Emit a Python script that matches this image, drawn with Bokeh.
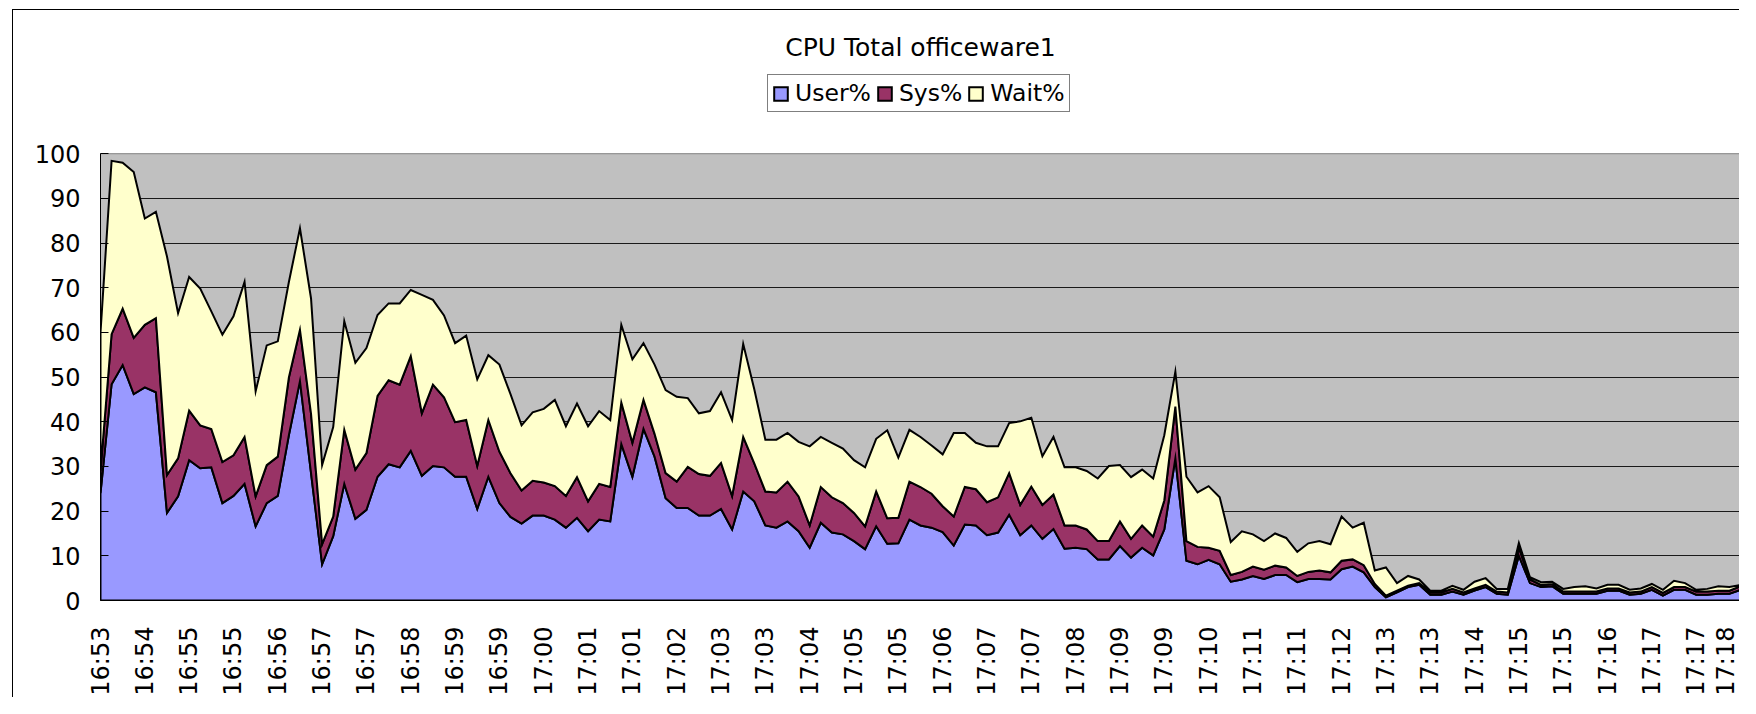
import numpy as np
from bokeh.plotting import figure
from bokeh.models import Range1d, FixedTicker, Legend, LegendItem
from bokeh.embed import file_html
from bokeh.resources import INLINE

title_text = "CPU Total officeware1"
series_names = ["User%", "Sys%", "Wait%"]
series_colors = ["#9999FF", "#993366", "#FFFFCC"]

tick_labels = ["16:53", "16:54", "16:55", "16:55", "16:56", "16:57", "16:57", "16:58", "16:59", "16:59",
               "17:00", "17:01", "17:01", "17:02", "17:03", "17:03", "17:04", "17:05", "17:05", "17:06",
               "17:07", "17:07", "17:08", "17:09", "17:09", "17:10", "17:11", "17:11", "17:12", "17:13",
               "17:13", "17:14", "17:15", "17:15", "17:16", "17:17", "17:17", "17:18"]
label_every = 4

user = [24.0, 48.4, 52.7, 46.2, 47.7, 46.6, 19.6, 23.3, 31.4, 29.6,
        29.8, 21.8, 23.4, 26.1, 16.6, 21.8, 23.4, 37.0, 49.1, 28.5,
        8.1, 14.4, 26.1, 18.3, 20.3, 27.7, 30.5, 29.8, 33.5, 27.9,
        30.1, 29.8, 27.7, 27.7, 20.5, 27.7, 21.8, 18.7, 17.2, 19.0,
        19.0, 18.1, 16.3, 18.5, 15.5, 18.1, 17.7, 35.0, 27.7, 38.4,
        32.2, 22.9, 20.7, 20.7, 19.0, 19.0, 20.5, 15.9, 24.4, 22.2,
        16.8, 16.3, 17.7, 15.5, 11.8, 17.4, 15.2, 14.8, 13.3, 11.5,
        16.6, 12.7, 12.8, 18.1, 16.8, 16.3, 15.3, 12.3, 17.0, 16.8,
        14.6, 15.2, 19.2, 14.6, 16.8, 13.8, 16.0, 11.6, 11.8, 11.5,
        9.2, 9.2, 12.2, 9.6, 11.8, 10.1, 15.9, 31.8, 8.9, 8.1,
        9.1, 8.1, 4.2, 4.7, 5.5, 4.8, 5.7, 5.7, 4.1, 4.8,
        4.8, 4.7, 7.0, 7.6, 6.3, 3.0, 0.7, 1.8, 3.0, 3.5,
        1.3, 1.3, 2.0, 1.3, 2.2, 3.0, 1.5, 1.3, 10.0, 3.9,
        3.0, 3.2, 1.5, 1.5, 1.5, 1.5, 2.2, 2.2, 1.3, 1.5,
        2.4, 1.1, 2.4, 2.4, 1.3, 1.3, 1.5, 1.5, 2.4]

sys_ = [5.0, 11.2, 12.6, 12.6, 14.0, 16.6, 8.5, 8.5, 11.1, 9.6,
        8.6, 9.2, 9.1, 10.5, 6.7, 8.5, 8.8, 12.9, 11.5, 13.3,
        4.5, 4.4, 12.1, 11.0, 12.7, 18.1, 18.8, 18.5, 21.2, 14.0,
        18.2, 15.7, 12.2, 12.7, 9.6, 12.7, 11.5, 9.8, 7.4, 7.8,
        7.4, 7.5, 7.1, 9.1, 6.7, 8.0, 7.7, 9.3, 7.6, 6.5,
        5.1, 5.6, 5.9, 9.2, 9.3, 8.9, 10.3, 7.5, 12.2, 8.5,
        7.6, 7.9, 8.9, 7.8, 5.0, 8.0, 7.9, 7.0, 6.3, 5.1,
        7.8, 5.7, 5.7, 8.5, 8.6, 7.6, 5.8, 6.5, 8.4, 8.1,
        7.4, 7.9, 9.3, 6.8, 8.7, 7.6, 7.7, 5.2, 5.0, 4.4,
        4.1, 4.1, 5.5, 4.2, 5.0, 4.2, 6.5, 11.6, 4.4, 3.9,
        2.7, 3.0, 1.5, 1.7, 2.1, 2.1, 2.1, 1.7, 1.4, 1.6,
        1.9, 1.6, 1.9, 1.6, 1.6, 0.7, 0.4, 0.4, 0.3, 0.4,
        0.5, 0.5, 0.6, 0.5, 0.5, 0.5, 0.5, 0.5, 1.8, 0.8,
        0.5, 0.5, 0.5, 0.5, 0.5, 0.5, 0.5, 0.5, 0.5, 0.5,
        0.6, 0.6, 0.6, 0.6, 0.7, 0.7, 0.7, 0.7, 0.8]

wait = [31.0, 38.8, 32.7, 37.1, 23.8, 23.8, 48.9, 32.5, 29.9, 30.6,
        26.3, 28.5, 31.1, 34.7, 23.5, 26.8, 25.8, 21.4, 22.7, 25.8,
        17.7, 20.0, 24.3, 23.9, 23.5, 18.1, 17.2, 18.2, 14.8, 26.5,
        19.0, 18.3, 17.7, 18.9, 19.4, 14.5, 19.5, 17.7, 14.6, 15.3,
        16.5, 19.3, 15.6, 16.5, 16.8, 16.3, 15.0, 17.4, 18.7, 12.7,
        15.5, 18.6, 19.0, 15.4, 13.6, 14.5, 15.8, 17.0, 20.8, 16.6,
        11.6, 11.8, 10.9, 12.2, 17.7, 11.2, 12.2, 12.2, 11.8, 13.2,
        11.8, 19.7, 13.5, 11.6, 11.2, 10.8, 11.6, 18.7, 12.1, 10.4,
        12.5, 11.4, 11.2, 18.7, 15.4, 10.9, 12.9, 13.0, 13.0, 13.1,
        14.0, 16.8, 12.6, 13.8, 12.5, 13.0, 14.6, 7.8, 14.4, 12.2,
        13.8, 12.0, 7.4, 9.1, 7.2, 6.4, 7.2, 6.6, 5.4, 6.4,
        6.6, 6.3, 9.9, 7.1, 9.5, 3.0, 6.3, 1.7, 2.2, 0.8,
        0.4, 0.4, 0.7, 0.6, 1.5, 1.5, 0.6, 0.8, 1.1, 0.5,
        0.6, 0.5, 0.6, 1.0, 1.2, 0.7, 0.8, 0.8, 0.6, 0.7,
        0.7, 0.7, 1.4, 0.9, 0.4, 0.6, 1.0, 0.8, 0.3]

y_ticks = [0, 10, 20, 30, 40, 50, 60, 70, 80, 90, 100]
y_max = 100

FONT = "DejaVu Sans"

n = len(user)
x = np.arange(n)

# frame extends above the plot area so the legend can sit inside it
PX_PER_UNIT = 4.51
FRAME_TOP_EXTRA = 84  # px of white space above the 100 line
y_top = y_max + FRAME_TOP_EXTRA / PX_PER_UNIT

p = figure(width=1727, height=688, output_backend="svg", toolbar_location=None,
           x_range=Range1d(0, n - 1), y_range=Range1d(0, y_top),
           min_border_left=87, min_border_right=0, min_border_top=60, min_border_bottom=93)
# chart-area border (top and left edges visible in the original)
p.styles = {"margin-left": "12px", "margin-top": "9px",
            "border-left": "1px solid #000000", "border-top": "1px solid #000000"}

p.background_fill_color = "white"
p.border_fill_color = "white"
p.outline_line_color = None

# plot area (grey) drawn below the grid
p.quad(left=[0], right=[n - 1], bottom=[0], top=[y_max], fill_color="#C0C0C0",
       line_color="#808080", line_width=1, level="image")

# title
p.title.text = title_text
p.title.align = "center"
p.title.text_font = FONT
p.title.text_font_size = "25px"
p.title.text_font_style = "normal"
p.title.text_color = "black"
p.title.standoff = 17

# stacked areas, each with black outline
bottom = np.zeros(n)
items = []
for name, vals, col in zip(series_names, [user, sys_, wait], series_colors):
    top = bottom + np.array(vals)
    xs = np.concatenate([x, x[::-1]])
    ys = np.concatenate([top, bottom[::-1]])
    r = p.patch(xs, ys, fill_color=col, line_color="black", line_width=2, line_join="miter")
    items.append(LegendItem(label=name, renderers=[r]))
    bottom = top

legend = Legend(items=items, orientation="horizontal", location=(667, 488),
                glyph_width=17, glyph_height=17, label_standoff=6, spacing=5,
                padding=4, margin=0, border_line_color="black", border_line_width=1,
                background_fill_color="white", background_fill_alpha=1.0,
                label_text_font=FONT, label_text_font_size="23.5px", label_text_color="black")
p.add_layout(legend, "center")

# grid
p.xgrid.visible = False
p.ygrid.ticker = FixedTicker(ticks=y_ticks[1:-1])
p.ygrid.grid_line_color = "#1a1a1a"
p.ygrid.grid_line_width = 1

# y axis
p.yaxis.ticker = FixedTicker(ticks=y_ticks)
p.yaxis.bounds = (0, y_max)
p.yaxis.axis_line_color = "black"
p.yaxis.axis_line_width = 1
p.yaxis.major_tick_in = 8
p.yaxis.major_tick_out = 0
p.yaxis.major_tick_line_color = "black"
p.yaxis.minor_tick_line_color = None
p.yaxis.major_label_text_font = FONT
p.yaxis.major_label_text_font_size = "24px"
p.yaxis.major_label_text_color = "black"
p.yaxis.major_label_standoff = 20

# x axis
tick_pos = [i * label_every for i in range(len(tick_labels))]
p.xaxis.ticker = FixedTicker(ticks=tick_pos)
p.xaxis.major_label_overrides = {t: lab for t, lab in zip(tick_pos, tick_labels)}
p.xaxis.major_label_orientation = np.pi / 2
p.xaxis.axis_line_color = "black"
p.xaxis.axis_line_width = 1
p.xaxis.major_tick_in = 0
p.xaxis.major_tick_out = 0
p.xaxis.minor_tick_line_color = None
p.xaxis.major_label_text_font = FONT
p.xaxis.major_label_text_font_size = "24px"
p.xaxis.major_label_text_color = "black"
p.xaxis.major_label_standoff = 26

open("out.html", "w").write(file_html(p, INLINE))
